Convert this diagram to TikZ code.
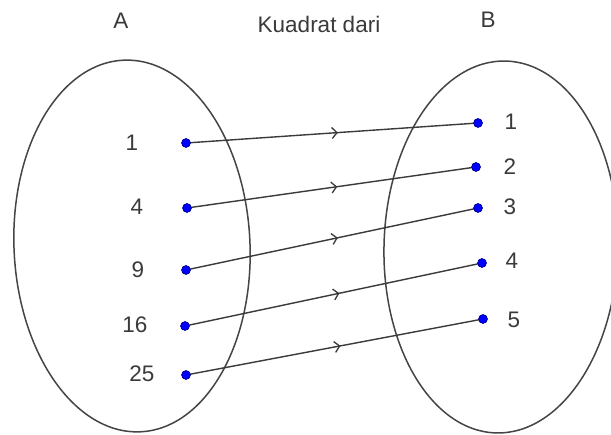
\documentclass[tikz,border=0pt]{standalone}
\usepackage{fontspec}
\setmainfont{Liberation Sans}
\usetikzlibrary{arrows.meta,decorations.markings}
\definecolor{ink}{HTML}{3A3A3A}
\definecolor{ringc}{HTML}{454545}
\definecolor{ptblue}{HTML}{0000FF}
\tikzset{
  setring/.style={draw=ringc, line width=1.5pt},
  dot/.style={circle, fill=ptblue, draw=ptblue!55!black, line width=0.6pt, minimum size=8.5pt, inner sep=0pt},
  lbl/.style={text=ink, font=\fontsize{22.5}{25}\selectfont, inner sep=0pt},
  conn/.style={draw=ink, line width=1.4pt,
    postaction={decorate},
    decoration={markings, mark=at position 0.52 with {\arrow[ink, line width=1.3pt]{Straight Barb[length=5pt,width=11pt]}}}}
}
\begin{document}
\begin{tikzpicture}[x=1pt,y=-1pt]
\useasboundingbox (0,0) rectangle (611,435);
\clip (0,0) rectangle (611,435);
\fill[white] (0,0) rectangle (611,435);
% sets
\draw[setring, rotate around={2.6:(132,246)}] (132,246) ellipse [x radius=118pt, y radius=186pt];
\draw[setring, rotate around={-1.5:(501,247)}] (501,247) ellipse [x radius=117pt, y radius=186pt];
% titles
\node[lbl] (tA) at (121,21) {A};
\node[lbl] (tK) at (319,24) {Kuadrat dari};
\node[lbl] (tB) at (488,20) {B};
% domain points
\node[dot] (a1) at (186,143) {};
\node[dot] (a2) at (187,208) {};
\node[dot] (a3) at (186,270) {};
\node[dot] (a4) at (185,326) {};
\node[dot] (a5) at (186,375) {};
\node[lbl] (la1) at (132,143) {1};
\node[lbl] (la2) at (137,207) {4};
\node[lbl] (la3) at (138,270) {9};
\node[lbl] (la4) at (135,325) {16};
\node[lbl] (la5) at (142,374) {25};
% codomain points
\node[dot] (b1) at (478,123) {};
\node[dot] (b2) at (476,167) {};
\node[dot] (b3) at (478,208) {};
\node[dot] (b4) at (482,263) {};
\node[dot] (b5) at (483,319) {};
\node[lbl] (lb1) at (511,122) {1};
\node[lbl] (lb2) at (510,167) {2};
\node[lbl] (lb3) at (510,207) {3};
\node[lbl] (lb4) at (512,261) {4};
\node[lbl] (lb5) at (514,320) {5};
% mapping
\draw[conn] (a1.center) -- (b1.center);
\draw[conn] (a2.center) -- (b2.center);
\draw[conn] (a3.center) -- (b3.center);
\draw[conn] (a4.center) -- (b4.center);
\draw[conn] (a5.center) -- (b5.center);
% dots on top of the connectors
\foreach \n in {a1,a2,a3,a4,a5,b1,b2,b3,b4,b5}
  \fill[ptblue, draw=ptblue!55!black, line width=0.6pt] (\n) circle (4.4pt);
\end{tikzpicture}
\end{document}
